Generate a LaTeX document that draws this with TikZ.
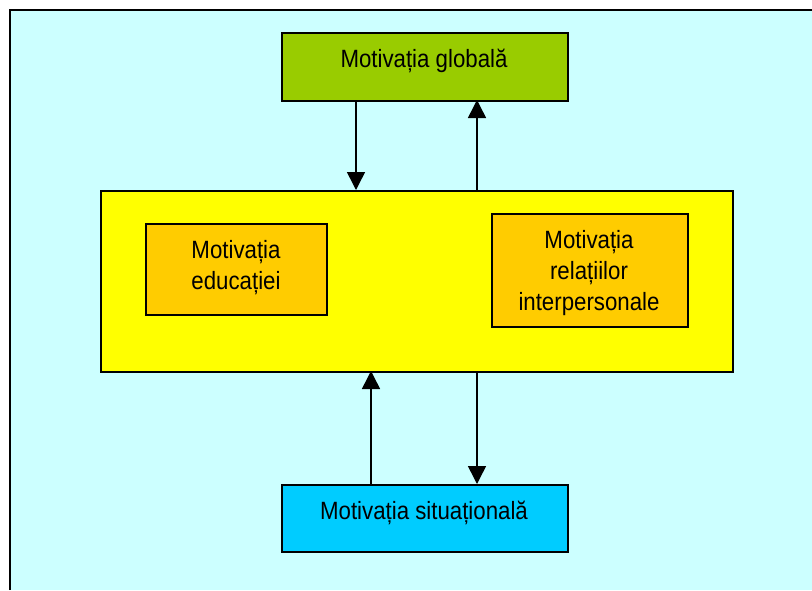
\documentclass[tikz,border=0pt]{standalone}
\usepackage{fontspec}
\setmainfont[FakeStretch=0.89]{Liberation Sans}
\usetikzlibrary{arrows.meta}
\definecolor{bgc}{HTML}{CCFFFF}
\definecolor{grn}{HTML}{99CC00}
\definecolor{ylw}{HTML}{FFFF00}
\definecolor{org}{HTML}{FFCC00}
\definecolor{cyb}{HTML}{00CCFF}
\tikzset{
  box/.style={draw=black, line width=1.5pt, rectangle, inner sep=0pt, anchor=north west},
  lbl/.style={font=\fontsize{25}{31}\selectfont, align=center, inner sep=0pt, text=black},
  arr/.style={line width=1.5pt, -{Triangle[width=18pt,length=18pt]}}
}
\begin{document}
\begin{tikzpicture}[x=1pt,y=-1pt]
\useasboundingbox (0,0) rectangle (812,590);
\fill[white] (0,0) rectangle (812,590);
\fill[bgc] (10,10) rectangle (812,590);
\draw[line width=2pt] (10,590) -- (10,10) -- (812,10);
% boxes
\node[box, fill=grn, minimum width=286pt, minimum height=68pt] (glob) at (281,32) {};
\node[box, fill=ylw, minimum width=632pt, minimum height=181pt] (mid) at (100,190) {};
\node[box, fill=org, minimum width=181pt, minimum height=91pt] (edu) at (145,223) {};
\node[box, fill=org, minimum width=196pt, minimum height=113pt] (rel) at (491,213) {};
\node[box, fill=cyb, minimum width=286pt, minimum height=67pt] (sit) at (281,484) {};
% texts
\node[lbl, anchor=base] (tglob) at (424,67) {Motivația globală};
\node[lbl] (tedu) at (236,268) {Motivația\\educației};
\node[lbl] (trel) at (589,273) {Motivația\\relațiilor\\interpersonale};
\node[lbl, anchor=base] (tsit) at (424,519) {Motivația situațională};
% arrows
\coordinate (a1) at (356,100); \coordinate (a2) at (356,190);
\coordinate (b1) at (477,190); \coordinate (b2) at (477,100);
\coordinate (c1) at (371,484); \coordinate (c2) at (371,371);
\coordinate (d1) at (477,371); \coordinate (d2) at (477,484);
\draw[arr] (a1) -- (a2);
\draw[arr] (b1) -- (b2);
\draw[arr] (c1) -- (c2);
\draw[arr] (d1) -- (d2);
\end{tikzpicture}
\end{document}
